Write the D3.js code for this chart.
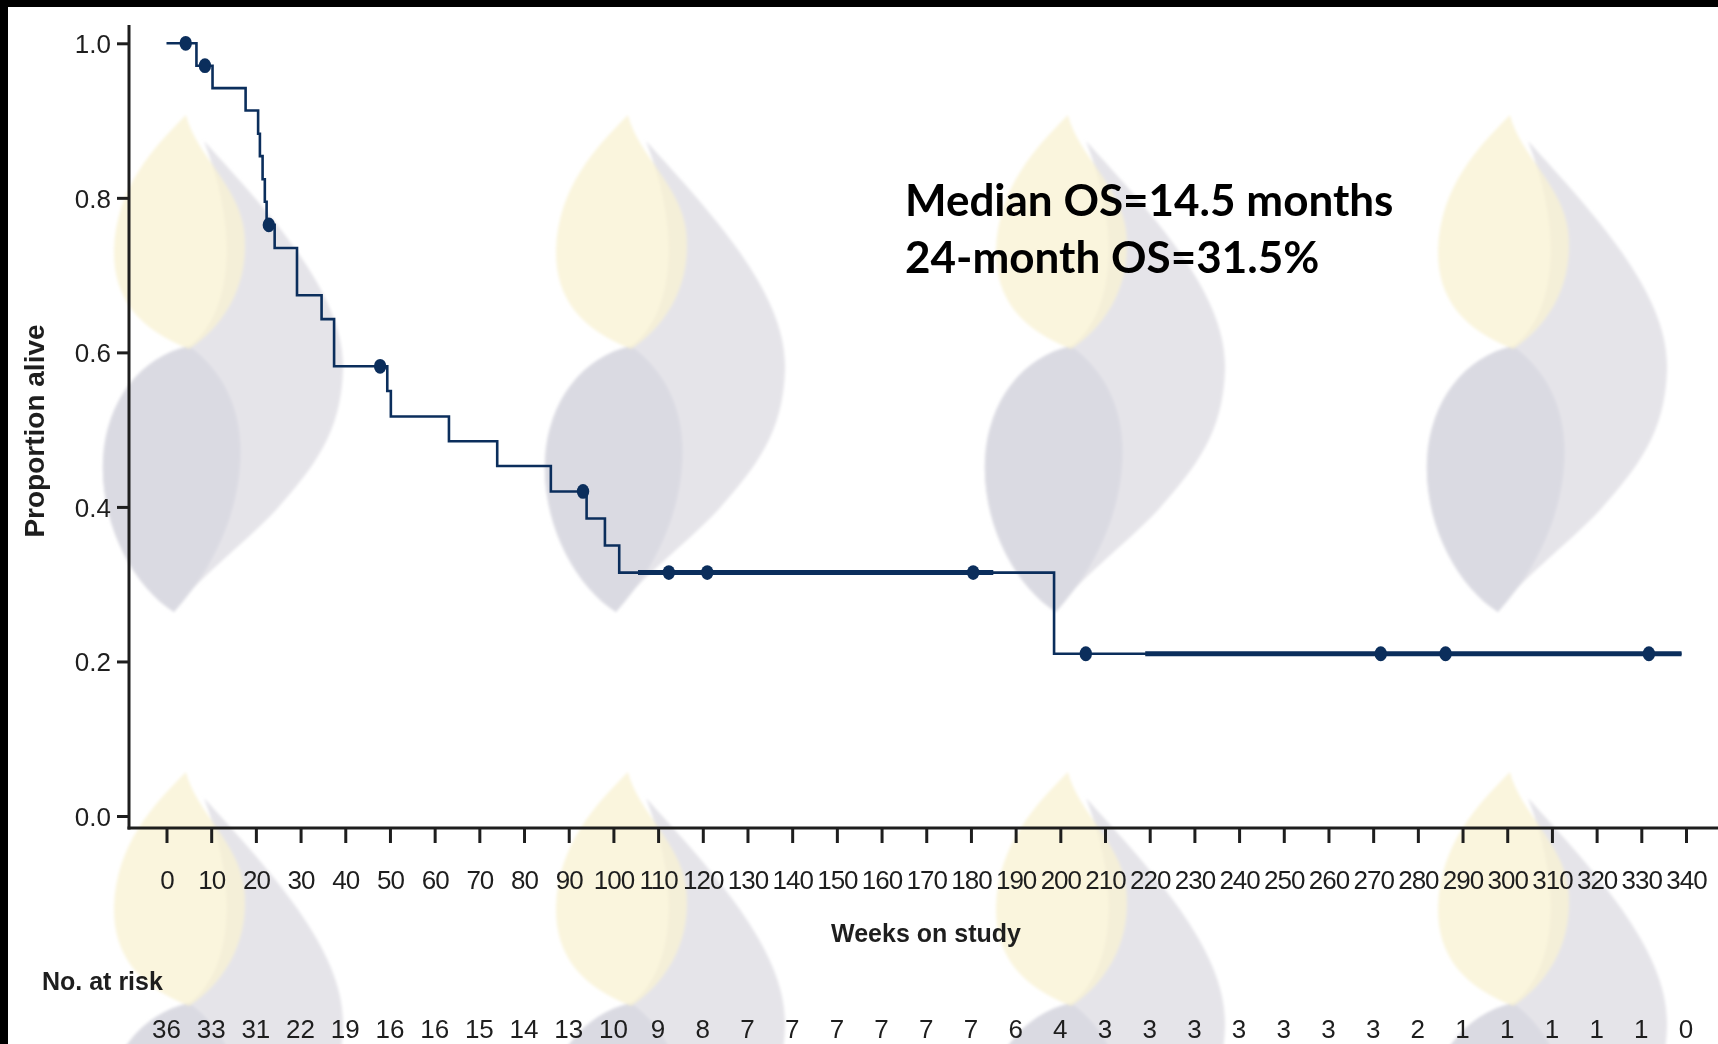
<!DOCTYPE html>
<html>
<head>
<meta charset="utf-8">
<script src="https://cdn.jsdelivr.net/npm/d3@7/dist/d3.min.js"></script>
<style>
  html, body { margin: 0; padding: 0; background: #fff; }
  svg { display: block; }
  .chart-text { font-family: "Liberation Sans", Arial, Helvetica, sans-serif; fill: #1e1e1e; }
  .note { font-family: Lato, "Open Sans", sans-serif; font-weight: 700; fill: #000; }
</style>
</head>
<body>
<script>
// ---- Kaplan–Meier data: overall survival by weeks on study ----
const eventTimes = [6.7, 10.3, 17.7, 20.5, 20.9, 21.5, 22.0, 22.4, 24.2, 29.2, 34.7, 37.5,
                    49.4, 50.2, 63.2, 74.0, 86.0, 94.0, 98.1, 101.3, 198.6];
const survival   = [0.971, 0.942, 0.913, 0.883, 0.854, 0.824, 0.795, 0.765, 0.735, 0.674, 0.643, 0.582,
                    0.550, 0.517, 0.485, 0.453, 0.420, 0.385, 0.350, 0.315, 0.210];
const censorTimes = [4.3, 8.6, 22.9, 47.8, 93.2, 112.4, 121.0, 180.5, 205.7, 271.7, 286.2, 331.7];
const lastFollowUp = 339;
// stretches where the curve is drawn heavier (overlapping segments)
const heavySpans = [[105.5, 185.0], [219.0, 339.0]];

// ---- axes / table ----
const weekTicks = d3.range(0, 341, 10);
const yTicks = [0.0, 0.2, 0.4, 0.6, 0.8, 1.0];
const numberAtRisk = [36, 33, 31, 22, 19, 16, 16, 15, 14, 13, 10, 9, 8, 7, 7, 7, 7, 7, 7, 6,
                      4, 3, 3, 3, 3, 3, 3, 3, 2, 1, 1, 1, 1, 1, 0];
const noteLines = ["Median OS=14.5 months", "24-month OS=31.5%"];

const W = 1718, H = 1044;
const navy = "#0b2e5c";

const svg = d3.select("body").append("svg").attr("width", W).attr("height", H);
svg.append("rect").attr("width", W).attr("height", H).attr("fill", "#fff");

const defs = svg.append("defs");
defs.append("filter").attr("id", "soft").attr("x", "-10%").attr("y", "-10%")
  .attr("width", "120%").attr("height", "120%")
  .append("feGaussianBlur").attr("stdDeviation", 1.6);

// ---- watermark flame logos ----
function flame(g) {
  // full silhouette (light grey)
  g.append("path")
    .attr("d", "M18,26 C85,100 160,180 157,255 C155,318 128,352 90,395 C55,432 8,466 -12,497 " +
               "C-52,472 -86,410 -83,345 C-80,285 -45,242 3,231 C40,205 58,130 18,26 Z")
    .attr("fill", "#e5e4e9");
  // darker left lobe
  g.append("path")
    .attr("d", "M3,231 C40,258 58,300 54,350 C50,410 20,462 -12,497 " +
               "C-52,472 -86,410 -83,345 C-80,285 -45,242 3,231 Z")
    .attr("fill", "#dadae2");
  // cream upper lobe
  g.append("path")
    .attr("d", "M0,0 C-32,32 -70,72 -72,135 C-73,185 -45,215 3,234 " +
               "C42,208 64,165 58,115 C52,70 10,40 0,0 Z")
    .attr("fill", "#f8f2d4").attr("fill-opacity", 0.78);
}
const logoCols = [186, 628, 1068, 1510];
const logoRows = [115, 772];
const logos = svg.append("g").attr("class", "watermark").attr("filter", "url(#soft)");
logoRows.forEach(ty => logoCols.forEach(tx => {
  flame(logos.append("g").attr("transform", `translate(${tx},${ty})`));
}));

// ---- black frame strips ----
svg.append("rect").attr("x", 0).attr("y", 0).attr("width", W).attr("height", 7).attr("fill", "#000");
svg.append("rect").attr("x", 0).attr("y", 0).attr("width", 8).attr("height", H).attr("fill", "#000");

// ---- scales ----
const x = d3.scaleLinear().domain([0, 340]).range([166.5, 1686]);
const y = d3.scaleLinear().domain([0, 1]).range([816, 43.3]);

// step function lookup
function S(t) {
  let s = 1;
  for (let i = 0; i < eventTimes.length; i++) if (eventTimes[i] <= t) s = survival[i];
  return s;
}

// ---- axes ----
const axisX0 = 129, axisY0 = 828;

const gy = svg.append("g").attr("transform", `translate(${axisX0},0)`)
  .call(d3.axisLeft(y).tickValues(yTicks).tickFormat(d3.format(".1f")).tickSize(12).tickPadding(6));
gy.select(".domain").remove();
gy.selectAll(".tick line").attr("stroke", "#1e1e1e").attr("stroke-width", 3);
gy.selectAll(".tick text").attr("class", "chart-text").attr("font-size", 26).attr("dy", "0.36em");

const gx = svg.append("g").attr("transform", `translate(0,${axisY0})`)
  .call(d3.axisBottom(x).tickValues(weekTicks).tickFormat(d3.format("d")).tickSize(15).tickPadding(0));
gx.select(".domain").remove();
gx.selectAll(".tick line").attr("stroke", "#1e1e1e").attr("stroke-width", 3);
gx.selectAll(".tick text").attr("class", "chart-text").attr("font-size", 26)
  .attr("y", 61).attr("dy", 0).attr("letter-spacing", -1);

// axis lines
svg.append("line").attr("x1", axisX0).attr("x2", axisX0).attr("y1", 25).attr("y2", axisY0 + 1.5)
  .attr("stroke", "#1e1e1e").attr("stroke-width", 3);
svg.append("line").attr("x1", axisX0 - 1.5).attr("x2", W).attr("y1", axisY0).attr("y2", axisY0)
  .attr("stroke", "#1e1e1e").attr("stroke-width", 3);

// axis titles
svg.append("text").attr("class", "chart-text")
  .attr("transform", `translate(44,431) rotate(-90)`)
  .attr("text-anchor", "middle").attr("font-size", 28).attr("font-weight", 700)
  .text("Proportion alive");
svg.append("text").attr("class", "chart-text")
  .attr("x", 926).attr("y", 942).attr("text-anchor", "middle")
  .attr("font-size", 25).attr("font-weight", 700).text("Weeks on study");

// ---- number at risk table ----
svg.append("text").attr("class", "chart-text")
  .attr("x", 42).attr("y", 990).attr("font-size", 25).attr("font-weight", 700).text("No. at risk");
svg.append("g").selectAll("text").data(numberAtRisk).join("text")
  .attr("class", "chart-text")
  .attr("x", (d, i) => x(weekTicks[i])).attr("y", 1038)
  .attr("text-anchor", "middle").attr("font-size", 26)
  .text(d => d);

// ---- survival curve ----
const pts = [[0, 1]].concat(eventTimes.map((t, i) => [t, survival[i]]), [[lastFollowUp, S(lastFollowUp)]]);
const stepLine = d3.line().x(d => x(d[0])).y(d => y(d[1])).curve(d3.curveStepAfter);
svg.append("path").datum(pts).attr("d", stepLine)
  .attr("fill", "none").attr("stroke", navy).attr("stroke-width", 2.6);

svg.append("g").selectAll("line").data(heavySpans).join("line")
  .attr("x1", d => x(d[0])).attr("x2", d => x(d[1]))
  .attr("y1", d => y(S(d[0]))).attr("y2", d => y(S(d[0])))
  .attr("stroke", navy).attr("stroke-width", 5);

svg.append("g").selectAll("ellipse").data(censorTimes).join("ellipse")
  .attr("cx", d => x(d)).attr("cy", d => y(S(d)))
  .attr("rx", 6.2).attr("ry", 7.4).attr("fill", navy);

// ---- annotation ----
const note = svg.append("text").attr("class", "note").attr("font-size", 44);
noteLines.forEach((l, i) => note.append("tspan").attr("x", 905).attr("y", 216 + i * 57).text(l));
</script>
</body>
</html>
